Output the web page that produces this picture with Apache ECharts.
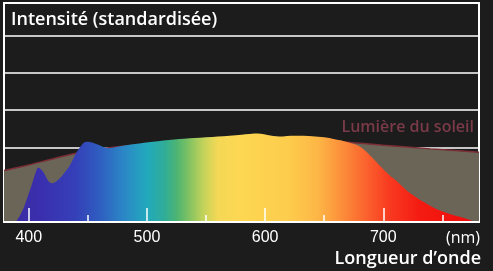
<!DOCTYPE html>
<html><head><meta charset="utf-8">
<script src="https://cdn.jsdelivr.net/npm/echarts@6/dist/echarts.min.js"></script>
<style>html,body{margin:0;padding:0;background:#1c1c1c}#c{width:493px;height:271px}</style>
</head><body><div id="c"></div>
<script>
// wavelengths (nm) and standardized intensity of the lamp spectrum
const specNm  = [389,392,396,402,406,408,412,417,420,425,434,440,446,450,457,467,475,490,505,523,540,560,580,594,602,612,625,640,650,656,664,670,677,683,690,698,705,712,720,727,734,741,748,755,762,769,774,778];
const specVal = [0,0.15,0.41,0.95,1.35,1.46,1.35,1.08,1.04,1.13,1.48,1.84,2.11,2.15,2.09,1.98,2.02,2.09,2.15,2.21,2.25,2.29,2.34,2.37,2.33,2.29,2.31,2.3,2.27,2.24,2.19,2.14,2.07,1.96,1.75,1.48,1.26,1.08,0.84,0.68,0.54,0.41,0.31,0.23,0.16,0.1,0.05,0];
// sunlight curve
const sunNm  = [379,400,420,440,460,470,490,520,560,600,640,670,681,700,740,781];
const sunVal = [1.38,1.53,1.69,1.84,1.96,2.0,2.06,2.14,2.19,2.2,2.18,2.14,2.11,2.06,1.96,1.87];
// axis ticks
const majorTicks = [400,500,600,700];
const minorTicks = [450,550,650,750];
const xMin = 379, xMax = 781;
// spectrum colour stops (nm, colour)
const colNm  = [380,410,440,460,480,500,515,525,535,548,560,580,620,645,665,685,705,730,781];
const colHex = ['#3a2a9e','#3a2fae','#3540b8','#2f5ec0','#2b86c6','#22a9bd','#30ad98','#4cb473','#7ec163','#c4d35a','#f4d856','#fdd752','#fdcc4c','#fdb646','#fc8e3a','#fb632e','#f83a20','#f41c12','#ee0a0a'];

const chart = echarts.init(document.getElementById('c'));
const gridL = 4, gridR = 14, gridT = 3, gridB = 49;
const W = 493;
const stops = colNm.map((n,i)=>({offset:(n-xMin)/(xMax-xMin), color:colHex[i]}));

const baseX = {type:'value', min:xMin, max:xMax, position:'bottom', splitLine:{show:false}, z:10};
chart.setOption({
  backgroundColor:'#1c1c1c',
  animation:false,
  grid:{left:gridL,right:gridR,top:gridT,bottom:gridB,show:true,borderColor:'#ffffff',borderWidth:2},
  xAxis:[
    Object.assign({}, baseX, {
      axisLine:{lineStyle:{color:'#ffffff',width:2}},
      axisTick:{inside:true,length:14,customValues:majorTicks,lineStyle:{color:'#ffffff',width:1.5}},
      axisLabel:{customValues:majorTicks,color:'#ffffff',fontSize:16,fontFamily:'Liberation Sans, Arial',margin:8}
    }),
    Object.assign({}, baseX, {
      axisLine:{show:false},
      axisTick:{inside:true,length:7,customValues:minorTicks,lineStyle:{color:'#ffffff',width:1.5}},
      axisLabel:{show:false}
    })
  ],
  yAxis:{type:'value',min:0,max:5.87,interval:1,axisLine:{show:false},axisTick:{show:false},axisLabel:{show:false},
    splitLine:{lineStyle:{color:'#ffffff',width:1.5}}},
  series:[
    {type:'line',data:sunNm.map((n,i)=>[n,sunVal[i]]),symbol:'none',smooth:0.3,z:2,
      lineStyle:{color:'#7b2e35',width:1.5},areaStyle:{color:'#6b6558',opacity:1}},
    {type:'line',data:specNm.map((n,i)=>[n,specVal[i]]),symbol:'none',smooth:0.3,z:3,
      lineStyle:{width:0},
      areaStyle:{opacity:1,color:{type:'linear',x:gridL,y:0,x2:W-gridR,y2:0,global:true,colorStops:stops}}}
  ],
  graphic:[
    {type:'text',x:11,y:20,z:10,style:{text:'Intensité (standardisée)',fill:'#ffffff',font:'600 18px "Open Sans"',textAlign:'left',textVerticalAlign:'middle'}},
    {type:'text',x:474,y:127,z:10,style:{text:'Lumière du soleil',fill:'#7a3a48',font:'600 16px "Open Sans"',textAlign:'right',textVerticalAlign:'middle'}},
    {type:'text',x:480,y:238,z:10,style:{text:'(nm)',fill:'#ffffff',font:'16px "Open Sans"',textAlign:'right',textVerticalAlign:'middle'}},
    {type:'text',x:481,y:259,z:10,style:{text:'Longueur d’onde',fill:'#ffffff',font:'600 18px "Open Sans"',textAlign:'right',textVerticalAlign:'middle'}}
  ]
});
</script></body></html>
